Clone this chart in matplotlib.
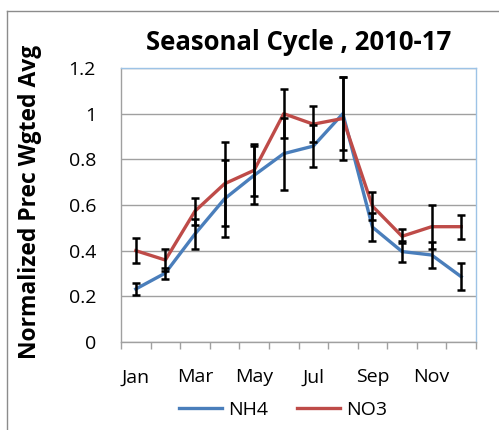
import matplotlib
matplotlib.use("Agg")
import matplotlib.pyplot as plt
from matplotlib.lines import Line2D

months = ["Jan", "Feb", "Mar", "Apr", "May", "Jun", "Jul", "Aug", "Sep", "Oct", "Nov", "Dec"]
tick_labels = ["Jan", "", "Mar", "", "May", "", "Jul", "", "Sep", "", "Nov", ""]
nh4 = [0.232, 0.302, 0.473, 0.627, 0.730, 0.825, 0.858, 1.000, 0.503, 0.396, 0.381, 0.286]
nh4_err = [0.028, 0.024, 0.064, 0.169, 0.127, 0.158, 0.092, 0.160, 0.062, 0.047, 0.057, 0.060]
no3 = [0.400, 0.359, 0.573, 0.693, 0.752, 1.000, 0.954, 0.979, 0.595, 0.463, 0.505, 0.505]
no3_err = [0.055, 0.050, 0.059, 0.183, 0.114, 0.108, 0.079, 0.180, 0.061, 0.030, 0.097, 0.053]

plt.rcParams['font.family'] = ['Open Sans', 'DejaVu Sans']

fig = plt.figure(figsize=(4.99, 4.30), dpi=100)
W, H = 499, 430
ax = fig.add_axes([121 / W, 1 - 342 / H, 355 / W, (342 - 68) / H])

x = list(range(len(months)))
blue = "#4A7EBB"
red = "#BE4B48"
ax.plot(x, nh4, color=blue, lw=2.4, zorder=3)
ax.plot(x, no3, color=red, lw=2.4, zorder=3)
ax.errorbar(x, nh4, yerr=nh4_err, fmt="none", ecolor="black", elinewidth=1.8, capsize=3, capthick=1.8, zorder=4)
ax.errorbar(x, no3, yerr=no3_err, fmt="none", ecolor="black", elinewidth=1.8, capsize=3, capthick=1.8, zorder=4)

ax.set_xlim(-0.5, 11.5)
ax.set_ylim(0, 1.2)
ax.set_yticks([0, 0.2, 0.4, 0.6, 0.8, 1.0, 1.2])
ax.set_yticklabels(["0", "0.2", "0.4", "0.6", "0.8", "1", "1.2"])
ax.yaxis.grid(True, color="#A0A0A0", lw=1)
ax.set_axisbelow(True)
ax.tick_params(axis="y", length=0, labelsize=14, pad=18)

ax.set_xticks(x)
ax.set_xticklabels(tick_labels)
ax.set_xticks([i - 0.5 for i in range(13)], minor=True)
ax.tick_params(axis="x", which="major", length=0, labelsize=14, pad=19)
ax.tick_params(axis="x", which="minor", length=5, color="#A0A0A0", width=1)

for s in ["top", "right"]:
    ax.spines[s].set_color("#9DC3E6")
    ax.spines[s].set_linewidth(1)
for s in ["left", "bottom"]:
    ax.spines[s].set_color("#A0A0A0")
    ax.spines[s].set_linewidth(1)

ax.set_ylabel("Normalized Prec Wgted Avg", fontsize=16.5, fontweight="bold")
ax.yaxis.set_label_coords(-(121 - 42) / 355, (342 - 202) / 274)
fig.text(299 / W, 1 - 42 / H, "Seasonal Cycle , 2010-17", fontsize=18.5, fontweight="bold", ha="center", va="center")

handles = [Line2D([0], [0], color=blue, lw=2.4), Line2D([0], [0], color=red, lw=2.4)]
fig.legend(handles, ["NH4", "NO3"], loc="center", bbox_to_anchor=(283 / W, 1 - 410 / H), ncol=2,
           frameon=False, fontsize=14, handlelength=2.2, handletextpad=0.3, columnspacing=1.5,
           borderpad=0, borderaxespad=0)

# outer chart border (left and top visible)
fig.add_artist(Line2D([7 / W, 7 / W], [0, 1 - 11 / H], transform=fig.transFigure, color="#8C8C8C", lw=1))
fig.add_artist(Line2D([7 / W, 1], [1 - 11 / H, 1 - 11 / H], transform=fig.transFigure, color="#8C8C8C", lw=1))

fig.savefig("out.png", dpi=100)
